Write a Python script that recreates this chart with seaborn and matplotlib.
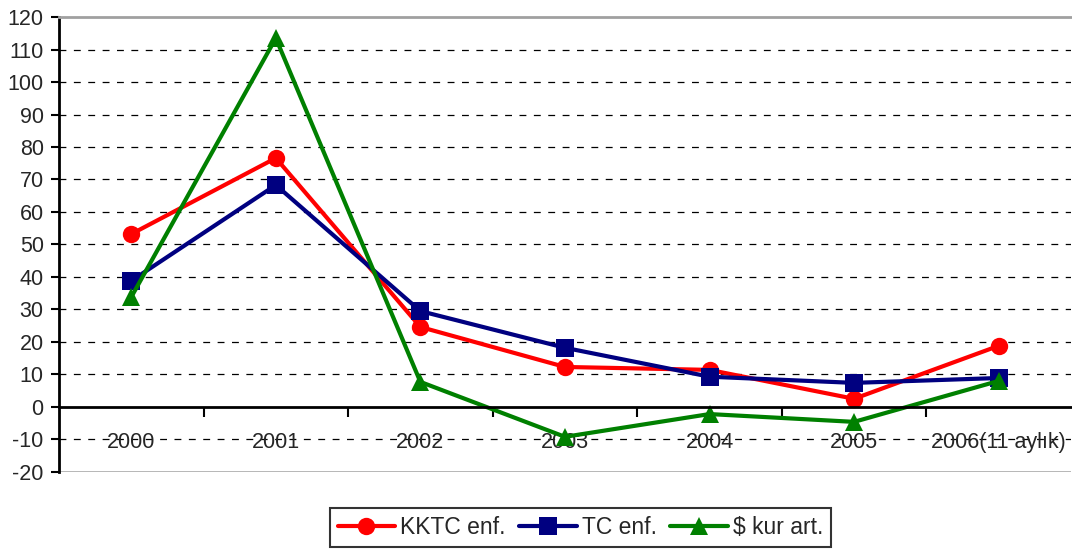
import pandas as pd
import matplotlib.pyplot as plt
import seaborn as sns

# values
years = ['2000', '2001', '2002', '2003', '2004', '2005', '2006(11 aylık)']
kktc_enf = [53.2, 76.6, 24.6, 12.3, 11.4, 2.5, 18.8]
tc_enf = [38.8, 68.3, 29.5, 18.2, 9.3, 7.4, 8.9]
kur_art = [33.8, 113.5, 7.7, -9.2, -2.2, -4.6, 8.0]
series_names = ['KKTC enf.', 'TC enf.', '$ kur art.']

df = pd.DataFrame({
    'year': years * 3,
    'pos': list(range(len(years))) * 3,
    'value': kktc_enf + tc_enf + kur_art,
    'series': [s for s in series_names for _ in years],
})

sns.set_style('white')
plt.rcParams['font.family'] = ['Liberation Sans', 'DejaVu Sans']
plt.rcParams['axes.unicode_minus'] = False

fig = plt.figure(figsize=(10.72, 5.5), dpi=100)
ax = fig.add_axes([0.055, 0.142, 0.944, 0.827])

palette = {'KKTC enf.': '#ff0000', 'TC enf.': '#000080', '$ kur art.': '#008000'}
markers = {'KKTC enf.': 'o', 'TC enf.': 's', '$ kur art.': '^'}

sns.lineplot(data=df, x='pos', y='value', hue='series', style='series',
             palette=palette, markers=markers, dashes=False, linewidth=3,
             markersize=12.5, markeredgewidth=0, ax=ax, legend=True)

ax.set_xlim(-0.5, len(years) - 0.5)
ax.set_ylim(-20, 120)
ax.set_yticks(range(-20, 121, 10))
ax.set_xlabel('')
ax.set_ylabel('')

# dashed grid
for y in range(-10, 120, 10):
    if y != 0:
        ax.axhline(y, color='black', linestyle=(0, (5.5, 6)), linewidth=0.9, zorder=0)
ax.axhline(-20, color='#b0b0b0', linewidth=2, zorder=0)

# x axis crosses at zero
ax.spines['bottom'].set_position(('data', 0))
ax.spines['bottom'].set_linewidth(2)
ax.spines['bottom'].set_color('black')
ax.spines['left'].set_linewidth(2)
ax.spines['left'].set_color('black')
ax.spines['top'].set_color('#a0a0a0')
ax.spines['top'].set_linewidth(2)
ax.spines['right'].set_visible(False)

ax.set_xticks(range(len(years)))
ax.set_xticklabels(years)
ax.set_xticks([i + 0.5 for i in range(len(years) - 1)], minor=True)
ax.tick_params(axis='x', which='both', bottom=True)
ax.tick_params(axis='x', which='major', length=0, pad=18, labelsize=15.5)
ax.tick_params(axis='x', which='minor', direction='out', length=7, width=1.5, color='black')
ax.tick_params(axis='y', which='major', left=True, direction='out', length=6, width=1.5,
               color='black', labelsize=15.5, pad=5)

handles, labels = ax.get_legend_handles_labels()
ax.legend_.remove()
leg = fig.legend(handles, labels, loc='center', bbox_to_anchor=(0.5415, 0.041),
                 ncol=3, frameon=True, fancybox=False, fontsize=16.5,
                 handlelength=2.5, handletextpad=0.22, columnspacing=0.6,
                 borderpad=0.35, borderaxespad=0, edgecolor='black')
leg.get_frame().set_linewidth(1.5)

fig.savefig('out.png', dpi=100)
